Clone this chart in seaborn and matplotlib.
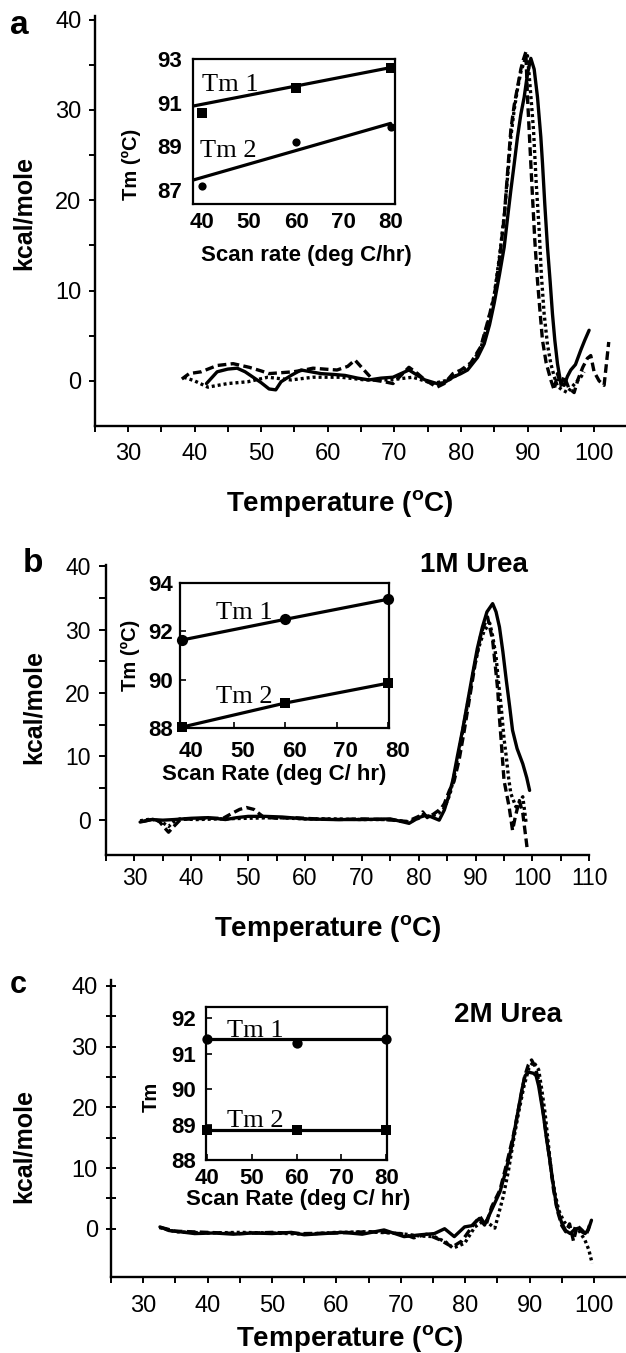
import matplotlib
matplotlib.use('Agg')
import matplotlib.pyplot as plt
import matplotlib.transforms as mtransforms
from matplotlib.ticker import FixedLocator
import seaborn as sns

# ---------------- data: panel a (no urea) ----------------
a_solid_T = [41.8, 43.4, 45.0, 46.4, 47.6, 48.8, 50.0, 51.2, 52.2, 53.0, 54.5, 56.0, 57.5, 59.0, 61.0,
             62.6, 64.5, 66.2, 68.0, 69.8, 71.0, 72.2, 73.5, 74.6, 76.4, 77.5, 78.8, 80.0, 81.0, 82.5,
             83.5, 84.3, 85.0, 85.8, 86.5, 87.0, 87.5, 88.0, 88.5, 89.0, 89.5, 90.0, 90.5, 91.0, 91.5,
             92.0, 92.25, 92.6, 93.0, 93.4, 93.75, 94.1, 94.5, 95.0, 95.5, 96.0, 96.5, 97.2, 98.0, 98.6, 99.25]
a_solid_V = [-0.3, 1.0, 1.3, 1.4, 1.0, 0.4, -0.2, -0.9, -1.0, -0.1, 0.6, 1.2, 1.0, 0.8, 0.7,
             0.6, 0.3, 0.1, 0.3, 0.4, 0.8, 1.2, 0.6, 0.1, -0.3, -0.2, 0.4, 0.8, 1.2, 2.6,
             4.1, 6.2, 8.6, 11.8, 14.8, 18.0, 21.1, 24.0, 27.0, 29.5, 31.4, 34.0, 35.7, 34.5, 31.4,
             27.0, 24.1, 19.5, 14.8, 11.0, 7.4, 4.5, 1.9, -0.3, -0.5, 0.5, 1.2, 1.8, 3.4, 4.5, 5.6]

a_dash_T = [38.1, 39.2, 41.0, 43.4, 45.8, 48.2, 50.0, 51.2, 53.0, 54.8, 56.5, 57.8, 59.5, 61.4, 63.0,
            64.1, 65.2, 66.8, 68.5, 69.8, 71.0, 72.2, 73.5, 74.6, 76.4, 77.5, 78.8, 80.0, 81.5, 83.0,
            84.0, 85.0, 85.8, 86.5, 87.0, 87.5, 88.0, 88.5, 89.0, 89.4, 89.75, 90.0, 90.4, 90.75, 91.1,
            91.5, 91.9, 92.25, 92.8, 93.5, 94.0, 94.5, 95.0, 95.5, 96.2, 97.0, 97.6, 98.3, 99.0, 99.5,
            100.0, 100.75, 101.5, 102.2]
a_dash_V = [0.2, 0.8, 1.0, 1.7, 1.9, 1.5, 1.1, 0.8, 0.9, 1.0, 1.2, 1.4, 1.3, 1.2, 1.6,
            2.3, 1.4, 0.1, -0.1, -0.3, 0.6, 1.5, 0.8, 0.1, -0.7, -0.3, 0.8, 1.2, 2.0, 3.8,
            6.5, 9.3, 13.5, 18.1, 23.0, 27.8, 30.5, 32.5, 34.5, 35.6, 36.4, 31.4, 25.5, 20.4, 15.5,
            11.1, 7.5, 4.5, 2.0, 0.1, -1.0, 0.8, -0.5, 0.5, -0.8, -1.3, 0.2, 1.5, 2.5, 2.8,
            1.0, 0.0, -0.5, 4.3]

a_dot_T = [38.4, 40.0, 42.0, 45.0, 48.0, 51.0, 54.5, 57.8, 62.0, 65.6, 69.2, 72.8, 75.8, 78.2, 80.0,
           81.5, 83.0, 84.0, 85.0, 85.8, 86.5, 87.0, 87.5, 88.0, 88.5, 89.0, 89.5, 90.0, 90.4, 90.9,
           91.3, 91.75, 92.1, 92.5, 93.0, 93.5, 94.0, 94.5, 95.2, 96.0, 97.0, 98.0, 98.5]
a_dot_V = [0.4, 0.0, -0.7, -0.3, -0.1, 0.4, 0.1, 0.4, 0.4, 0.1, 0.1, 0.4, -0.3, 0.1, 0.9,
           1.8, 3.6, 6.3, 9.5, 13.8, 18.3, 22.5, 27.0, 30.0, 32.3, 34.2, 35.3, 36.0, 32.5, 27.8,
           22.0, 16.7, 11.5, 7.4, 4.0, 1.9, 0.5, -0.6, -1.0, -1.3, -0.4, 0.4, 1.0]

# inset a: Tm vs scan rate
ins_a_rate = [40, 60, 80]
ins_a_tm1 = [90.54, 91.65, 92.56]
ins_a_tm2 = [87.21, 89.21, 89.87]
ins_a_fit_rate = [38.2, 80.0]
ins_a_fit_tm1 = [90.84, 92.59]
ins_a_fit_tm2 = [87.47, 90.05]

# ---------------- data: panel b (1M urea) ----------------
b_solid_T = [31.0, 33.0, 35.0, 37.0, 40.0, 43.0, 46.0, 48.0, 50.0, 53.0, 56.0, 60.0, 65.0, 70.0, 75.0,
             78.3, 80.0, 81.0, 82.0, 83.6, 84.5, 85.2, 86.0, 86.8, 87.7, 88.6, 89.5, 90.3, 91.2, 92.0,
             93.0, 93.6, 94.2, 94.8, 95.4, 96.0, 96.5, 97.3, 98.3, 99.0, 99.5]
b_solid_V = [-0.4, 0.0, -0.1, 0.0, 0.2, 0.3, 0.0, 0.3, 0.5, 0.5, 0.4, 0.1, 0.0, 0.0, 0.1,
             -0.6, 0.3, 0.6, 0.5, -0.1, 1.5, 3.5, 6.2, 10.0, 14.1, 18.6, 23.1, 27.0, 30.4, 32.8,
             34.1, 32.8, 30.4, 26.5, 22.0, 17.8, 14.1, 11.2, 8.8, 6.6, 4.6]

b_dash_T = [31.5, 33.0, 34.3, 35.2, 36.0, 36.8, 38.1, 40.0, 43.0, 45.6, 47.0, 48.5, 49.7, 51.0, 52.7,
            55.0, 58.0, 62.0, 66.0, 70.0, 74.0, 78.0, 80.0, 80.7, 81.5, 82.5, 83.9, 84.5, 85.4, 86.2,
            87.1, 88.0, 89.0, 90.0, 91.0, 92.1, 93.0, 93.5, 93.9, 94.2, 94.5, 95.0, 95.9, 96.5, 97.0,
            97.7, 98.3, 98.9, 99.1]
b_dash_V = [-0.3, 0.0, -0.2, -1.2, -2.0, -1.2, 0.0, 0.1, 0.2, 0.2, 0.9, 1.6, 1.9, 1.6, 0.4,
            0.2, 0.3, 0.1, 0.0, 0.1, 0.0, -0.3, 0.5, 1.2, 0.3, 0.8, 1.7, 2.5, 4.6, 6.0,
            9.4, 14.0, 19.5, 25.0, 29.5, 32.0, 28.3, 24.0, 20.4, 16.0, 12.5, 6.2, 2.0, -1.7, 0.5,
            3.0, 1.0, -3.3, -4.8]

b_dot_T = [31.0, 33.0, 35.0, 36.0, 37.0, 38.0, 41.0, 45.0, 50.0, 55.0, 60.0, 65.0, 70.0, 75.0, 78.3,
           80.0, 81.0, 82.0, 83.5, 84.5, 85.5, 86.5, 87.5, 88.5, 89.5, 90.5, 91.5, 92.5, 93.0, 93.6,
           94.0, 94.5, 95.0, 95.4, 95.8, 96.2, 97.1, 98.3, 98.9]
b_dot_V = [-0.2, 0.1, -0.5, -1.1, -0.3, 0.1, 0.0, 0.1, 0.2, 0.3, 0.1, 0.1, 0.0, 0.0, -0.4,
           0.2, 0.8, 0.4, 1.0, 1.8, 4.0, 8.0, 12.8, 17.8, 22.8, 27.0, 29.8, 31.0, 29.0, 25.7,
           22.0, 17.8, 12.8, 9.9, 6.6, 4.1, 2.0, 3.6, -0.6]

ins_b_rate = [40, 60, 80]
ins_b_tm1 = [91.64, 92.49, 93.32]
ins_b_tm2 = [88.05, 89.04, 89.86]

# ---------------- data: panel c (2M urea) ----------------
c_solid_T = [32.6, 34.0, 35.7, 38.0, 41.0, 44.0, 47.0, 50.0, 53.0, 55.0, 58.0, 61.0, 64.0, 67.4, 70.5,
             73.0, 75.2, 76.8, 78.3, 79.9, 81.0, 82.2, 83.0, 84.1, 85.4, 86.3, 87.2, 88.0, 88.8, 89.3,
             89.8, 90.6, 91.0, 91.4, 92.1, 92.6, 93.2, 93.7, 94.2, 95.0, 95.6, 96.3, 97.0, 97.6, 98.1,
             98.6, 99.1, 99.6]
c_solid_V = [0.3, -0.3, -0.5, -0.8, -0.7, -0.9, -0.7, -0.8, -0.6, -1.0, -0.8, -0.6, -0.9, -0.2, -1.3,
             -1.0, -0.8, 0.0, -1.3, 0.3, 0.5, 1.7, 0.6, 3.1, 6.1, 9.5, 13.5, 18.2, 22.9, 25.2,
             25.8, 25.6, 25.2, 23.5, 19.0, 15.0, 10.8, 7.0, 3.6, 0.9, -0.3, -0.8, -0.1, 0.1, -0.5,
             -0.8, -0.2, 1.4]

c_dash_T = [32.8, 35.0, 40.0, 45.0, 50.0, 55.0, 60.0, 65.0, 68.0, 70.5, 72.0, 74.0, 76.0, 78.0, 79.5,
            80.5, 81.5, 82.3, 83.2, 84.1, 85.4, 86.5, 87.5, 88.5, 89.2, 89.8, 90.3, 90.8, 91.4, 92.0,
            92.6, 93.1, 93.7, 94.3, 95.0, 95.6, 96.2, 96.8, 97.4, 98.2, 98.8, 99.3]
c_dash_V = [0.2, -0.4, -0.6, -0.8, -0.6, -0.8, -0.7, -0.5, -0.6, -0.9, -1.5, -0.9, -1.8, -3.0, -2.0,
            -0.5, 1.0, 2.0, 0.5, 3.6, 6.4, 11.0, 15.5, 21.0, 25.0, 27.0, 27.8, 26.8, 24.5, 20.0,
            15.3, 11.5, 6.5, 3.0, 0.5, -0.5, 0.8, -2.0, 0.5, -0.3, -1.0, 0.6]

c_dot_T = [32.5, 35.0, 40.0, 45.0, 50.0, 55.0, 60.0, 65.0, 70.0, 73.0, 75.2, 77.0, 78.1, 79.9, 81.5,
           83.0, 84.6, 85.9, 86.7, 87.5, 88.3, 89.1, 89.9, 90.6, 91.4, 91.9, 92.4, 92.9, 93.4, 94.0,
           94.5, 95.3, 96.1, 97.6, 98.6, 99.2, 99.7]
c_dot_V = [0.2, -0.5, -0.7, -0.6, -0.7, -0.9, -0.6, -0.5, -0.8, -1.2, -1.3, -2.2, -3.2, -2.4, 0.3,
           1.4, 0.1, 5.3, 9.5, 14.6, 19.2, 23.4, 26.5, 27.5, 26.2, 22.8, 19.0, 14.0, 9.1, 5.5,
           3.1, 1.2, 0.3, -0.2, -1.9, -3.5, -5.7]

ins_c_rate = [40, 60, 80]
ins_c_tm1 = [91.41, 91.30, 91.41]
ins_c_tm2 = [88.85, 88.85, 88.85]
ins_c_fit_rate = [40, 80]
ins_c_fit_tm1 = [91.41, 91.41]
ins_c_fit_tm2 = [88.85, 88.85]

# ---------------- text ----------------
panel_letters = ['a', 'b', 'c']
urea_labels = ['1M Urea', '2M Urea']
xlabel_main = r'Temperature ($\mathbf{^o}$C)'
ylabel_main = 'kcal/mole'
inset_xlabels = ['Scan rate (deg C/hr)', 'Scan Rate (deg C/ hr)', 'Scan Rate (deg C/ hr)']
inset_ylabels = ['Tm (\u00baC)', 'Tm (\u00baC)', 'Tm']

# ---------------- style ----------------
sns.set_style('ticks')
plt.rcParams['font.family'] = ['Liberation Sans', 'DejaVu Sans']
plt.rcParams['mathtext.fontset'] = 'custom'
plt.rcParams['mathtext.rm'] = 'Liberation Sans'
plt.rcParams['mathtext.bf'] = 'Liberation Sans:bold'
plt.rcParams['mathtext.it'] = 'Liberation Sans:italic'
for k in ['text.color', 'axes.labelcolor', 'axes.edgecolor', 'xtick.color', 'ytick.color',
          'xtick.labelcolor', 'ytick.labelcolor']:
    plt.rcParams[k] = 'black'

W, H = 626, 1353
fig = plt.figure(figsize=(W / 100, H / 100), dpi=100)
fig.patch.set_facecolor('white')


def add_ax(l, t, r, b):
    return fig.add_axes([l / W, 1 - b / H, (r - l) / W, (b - t) / H])


def ftext(x, y, s, **kw):
    fig.text(x / W, 1 - y / H, s, color='black', **kw)


LW = 2.4
DASH = (0, (2.6, 1.3))
DOT = (0, (0.9, 0.9))


def draw_curve(ax, T, V, ls):
    sns.lineplot(x=T, y=V, ax=ax, color='black', linestyle=ls, linewidth=LW,
                 sort=False, estimator=None, legend=False)


def style_main(ax, xlim, ylim, xmax_label, fs, ydir, ylen, ypad, xpad):
    ax.set_xlim(*xlim)
    ax.set_ylim(*ylim)
    ax.xaxis.set_major_locator(FixedLocator(list(range(30, xmax_label + 1, 10))))
    ax.xaxis.set_minor_locator(FixedLocator([v + 5 for v in range(20, xmax_label + 1, 10)]))
    ax.yaxis.set_major_locator(FixedLocator([0, 10, 20, 30, 40]))
    ax.yaxis.set_minor_locator(FixedLocator([5, 15, 25, 35]))
    for s in ['top', 'right']:
        ax.spines[s].set_visible(False)
    for s in ['left', 'bottom']:
        ax.spines[s].set_linewidth(1.7)
        ax.spines[s].set_color('black')
    ax.tick_params(axis='x', which='both', direction='out', length=4.5, width=1.4,
                   labelsize=fs, pad=xpad, color='black', labelcolor='black')
    ax.tick_params(axis='y', which='both', direction=ydir, length=ylen, width=1.4,
                   labelsize=fs, pad=ypad, color='black', labelcolor='black')
    ax.set_xlabel('')
    ax.set_ylabel('')
    ax.set_facecolor('none')


def style_inset(ax, xlim, ylim, yticks, tick_len, fs=16):
    ax.set_xlim(*xlim)
    ax.set_ylim(*ylim)
    ax.xaxis.set_major_locator(FixedLocator([40, 50, 60, 70, 80]))
    ax.yaxis.set_major_locator(FixedLocator(yticks))
    for s in ax.spines.values():
        s.set_linewidth(1.6)
        s.set_visible(True)
        s.set_color('black')
    ax.tick_params(axis='both', which='both', direction='in', length=tick_len, width=1.2,
                   labelsize=fs, color='black', labelcolor='black')
    for lab in ax.get_xticklabels() + ax.get_yticklabels():
        lab.set_fontweight('bold')
    ax.set_xlabel('')
    ax.set_ylabel('')
    ax.set_facecolor('white')


# ================= panel a =================
ax_a = add_ax(94.6, 15.9, 627.4, 426.0)
draw_curve(ax_a, a_solid_T, a_solid_V, '-')
draw_curve(ax_a, a_dash_T, a_dash_V, DASH)
draw_curve(ax_a, a_dot_T, a_dot_V, DOT)
style_main(ax_a, (25, 105), (-5, 40.4), 100, 17, 'out', 4.5, 5, 8)

in_a = add_ax(193, 58.6, 395.2, 204)
sns.lineplot(x=ins_a_fit_rate, y=ins_a_fit_tm1, ax=in_a, color='black', linewidth=2.3)
sns.lineplot(x=ins_a_fit_rate, y=ins_a_fit_tm2, ax=in_a, color='black', linewidth=2.3)
sns.scatterplot(x=ins_a_rate, y=ins_a_tm1, ax=in_a, color='black', marker='s', s=55,
                linewidth=0, clip_on=False, zorder=5)
sns.scatterplot(x=ins_a_rate, y=ins_a_tm2, ax=in_a, color='black', marker='o', s=35,
                linewidth=0, clip_on=False, zorder=5)
style_inset(in_a, (38.18, 80.98), (86.38, 93.0), [87, 89, 91, 93], 0)
in_a.tick_params(axis='y', pad=8)
in_a.tick_params(axis='x', pad=6)
in_a.text(40.0, 91.54, 'Tm 1', family='Liberation Serif', fontsize=19, va='baseline', ha='left')
in_a.text(39.7, 88.53, 'Tm 2', family='Liberation Serif', fontsize=19, va='baseline', ha='left')

ftext(19, 25, panel_letters[0], fontsize=24, fontweight='bold', ha='center', va='center')
ftext(24, 213, ylabel_main, fontsize=18, fontweight='bold', rotation=90, ha='center', va='center')
ftext(340, 503, xlabel_main, fontsize=20, fontweight='bold', ha='center', va='center')
ftext(131.7, 164, inset_ylabels[0], fontsize=14.5, fontweight='bold', rotation=90, ha='center', va='center')
ftext(306, 255, inset_xlabels[0], fontsize=16, fontweight='bold', ha='center', va='center')

# ================= panel b =================
ax_b = add_ax(106, 565, 589.3, 855)
draw_curve(ax_b, b_solid_T, b_solid_V, '-')
draw_curve(ax_b, b_dash_T, b_dash_V, DASH)
draw_curve(ax_b, b_dot_T, b_dot_V, DOT)
style_main(ax_b, (25, 110), (-5.6, 40.2), 110, 16.5, 'out', 5, 6, 4)

in_b = add_ax(180, 582.7, 388.7, 728.3)
sns.lineplot(x=ins_b_rate, y=ins_b_tm1, ax=in_b, color='black', linewidth=2.3)
sns.lineplot(x=ins_b_rate, y=ins_b_tm2, ax=in_b, color='black', linewidth=2.3)
sns.scatterplot(x=ins_b_rate, y=ins_b_tm1, ax=in_b, color='black', marker='o', s=65,
                linewidth=0, clip_on=False, zorder=5)
sns.scatterplot(x=ins_b_rate, y=ins_b_tm2, ax=in_b, color='black', marker='s', s=55,
                linewidth=0, clip_on=False, zorder=5)
style_inset(in_b, (39.6, 80.1), (88, 94), [88, 90, 92, 94], 4)
in_b.tick_params(axis='y', pad=5)
in_b.tick_params(axis='x', pad=9)
shift = mtransforms.ScaledTranslation(9 / 100, 0, fig.dpi_scale_trans)
for lab in in_b.get_xticklabels():
    lab.set_transform(lab.get_transform() + shift)
in_b.text(46.6, 92.49, 'Tm 1', family='Liberation Serif', fontsize=19, va='baseline', ha='left')
in_b.text(46.6, 89.03, 'Tm 2', family='Liberation Serif', fontsize=19, va='baseline', ha='left')

ftext(32.5, 564, panel_letters[1], fontsize=24, fontweight='bold', ha='center', va='center')
ftext(34, 707, ylabel_main, fontsize=18, fontweight='bold', rotation=90, ha='center', va='center')
ftext(328, 929, xlabel_main, fontsize=20, fontweight='bold', ha='center', va='center')
ftext(130, 655, inset_ylabels[1], fontsize=14.5, fontweight='bold', rotation=90, ha='center', va='center')
ftext(274, 775, inset_xlabels[1], fontsize=16, fontweight='bold', ha='center', va='center')
ftext(474, 565, urea_labels[0], fontsize=20, fontweight='bold', ha='center', va='center')

# ================= panel c =================
ax_c = add_ax(111, 979.8, 625.6, 1277.3)
draw_curve(ax_c, c_solid_T, c_solid_V, '-')
draw_curve(ax_c, c_dash_T, c_dash_V, DASH)
draw_curve(ax_c, c_dot_T, c_dot_V, DOT)
style_main(ax_c, (25, 104.9), (-8, 41), 100, 17, 'inout', 7, 6, 8)

in_c = add_ax(206, 1006.7, 387.2, 1160)
sns.lineplot(x=ins_c_fit_rate, y=ins_c_fit_tm1, ax=in_c, color='black', linewidth=2.3)
sns.lineplot(x=ins_c_fit_rate, y=ins_c_fit_tm2, ax=in_c, color='black', linewidth=2.3)
sns.scatterplot(x=ins_c_rate, y=ins_c_tm1, ax=in_c, color='black', marker='o', s=55,
                linewidth=0, clip_on=False, zorder=5)
sns.scatterplot(x=ins_c_rate, y=ins_c_tm2, ax=in_c, color='black', marker='s', s=55,
                linewidth=0, clip_on=False, zorder=5)
style_inset(in_c, (39.82, 80.18), (88, 92.33), [88, 89, 90, 91, 92], 4)
in_c.tick_params(axis='y', pad=7)
in_c.tick_params(axis='x', pad=6)
in_c.text(44.6, 91.47, 'Tm 1', family='Liberation Serif', fontsize=19, va='baseline', ha='left')
in_c.text(44.6, 88.94, 'Tm 2', family='Liberation Serif', fontsize=19, va='baseline', ha='left')

ftext(18, 985, panel_letters[2], fontsize=22, fontweight='bold', ha='center', va='center')
ftext(24, 1146, ylabel_main, fontsize=18, fontweight='bold', rotation=90, ha='center', va='center')
ftext(350, 1338, xlabel_main, fontsize=20, fontweight='bold', ha='center', va='center')
ftext(151, 1097, inset_ylabels[2], fontsize=14.5, fontweight='bold', rotation=90, ha='center', va='center')
ftext(298, 1200, inset_xlabels[2], fontsize=16, fontweight='bold', ha='center', va='center')
ftext(508, 1015, urea_labels[1], fontsize=20, fontweight='bold', ha='center', va='center')

fig.savefig('out.png', dpi=100, facecolor='white')
